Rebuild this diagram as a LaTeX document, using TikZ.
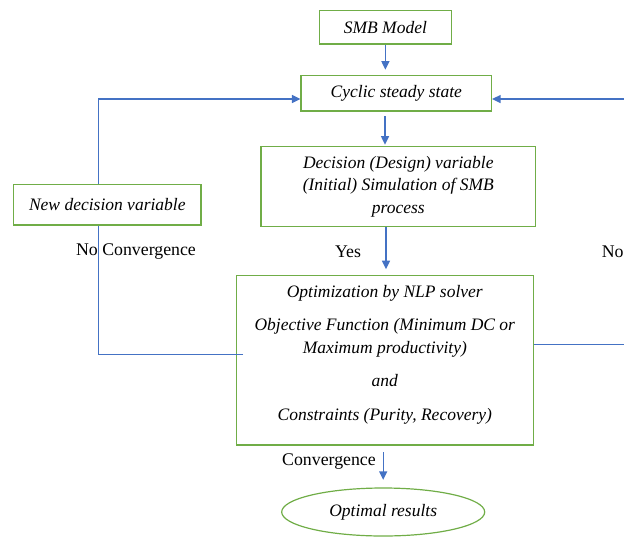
\documentclass[tikz,border=0pt]{standalone}
\usepackage{fontspec}
\setmainfont{Liberation Serif}
\usetikzlibrary{arrows.meta,shapes.geometric,calc}
\definecolor{boxgreen}{HTML}{70AD47}
\definecolor{lineblue}{HTML}{4472C4}
\begin{document}
\begin{tikzpicture}[x=1pt,y=-1pt,
  txt/.style={font=\fontsize{17.8}{22.5}\selectfont},
  itxt/.style={font=\fontsize{17.5}{22.5}\selectfont\itshape},
  gbox/.style={draw=boxgreen,line width=1.2pt,inner sep=0pt,itxt,align=center},
  conn/.style={draw=lineblue,line width=1.4pt},
  arr/.style={conn,-{Triangle[length=8.5pt,width=8pt]}}]
\useasboundingbox (0,0) rectangle (624,536);
% boxes
\node[gbox,minimum width=131.8pt,minimum height=33.3pt] (smb) at (385.4,27.4) {SMB Model};
\node[gbox,minimum width=190.5pt,minimum height=35.3pt] (css) at (396.3,93.4) {Cyclic steady state};
\node[gbox,minimum width=274.6pt,minimum height=79.6pt] (dec) at (398.3,186.5)
  {Decision (Design) variable\\(Initial) Simulation of SMB\\process};
\node[gbox,minimum width=187.5pt,minimum height=40.7pt] (newdec) at (107.3,204.7) {New decision variable};
\node[gbox,minimum width=296.8pt,minimum height=169.3pt] (opt) at (384.8,360.4) {};
\node[itxt,align=center,inner sep=0pt] (opttext) at (384.8,354.5)
  {Optimization by NLP solver\\[10.9pt]Objective Function (Minimum DC or\\Maximum productivity)\\[10.9pt]and\\[10.9pt]Constraints (Purity, Recovery)};
\node[draw=boxgreen,line width=1.2pt,ellipse,inner sep=0pt,minimum width=203pt,minimum height=48pt,itxt] (res) at (383.2,512) {Optimal results};
% labels
\node[txt,inner sep=0pt] (lnoconv) at (136,251.5) {No Convergence};
\node[txt,inner sep=0pt] (lyes) at (348,251.5) {Yes};
\node[txt,inner sep=0pt,anchor=east] (lno) at (623.8,251.5) {No};
\node[txt,inner sep=0pt] (lconv) at (329,462) {Convergence};
% helper coordinates
\coordinate (lx) at (98.7,0);
\coordinate (rin) at (624,99);
\coordinate (rout) at (624,344.3);
\coordinate (optl) at (243,354.7);
% connectors
\draw[arr,shorten >=5.5pt] (smb.south) -- (smb.south |- css.north);
\draw[arr,shorten <=4.5pt,shorten >=1.5pt] (385,0 |- css.south) -- (385,0 |- dec.north);
\draw[arr,shorten >=6pt] (386,0 |- dec.south) -- (386,0 |- opt.north);
\draw[arr,shorten <=6.7pt,shorten >=7.5pt] (383.2,0 |- opt.south) -- (383.2,0 |- res.north);
\draw[arr] (lx |- newdec.north) |- ($(css.west)+(0,5.6)$);
\draw[conn] (optl) -| (lx |- newdec.south);
\draw[arr] (rin) -- (css.east |- rin);
\draw[conn] (opt.east |- rout) -- (rout);
\end{tikzpicture}
\end{document}
